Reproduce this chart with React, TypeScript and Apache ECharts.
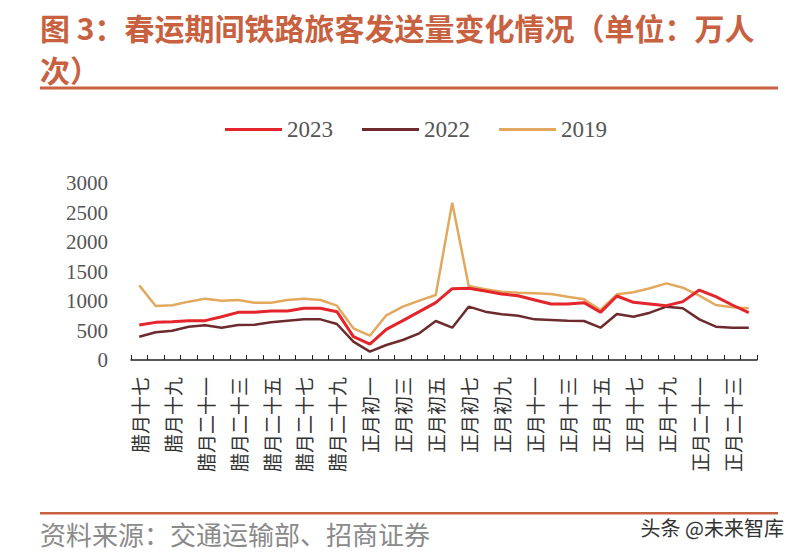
import React, { useEffect, useRef } from "react";
import * as echarts from "echarts";

const categories = [
  "腊月十七", "腊月十八", "腊月十九", "腊月二十", "腊月二十一", "腊月二十二", "腊月二十三", "腊月二十四",
  "腊月二十五", "腊月二十六", "腊月二十七", "腊月二十八", "腊月二十九", "腊月三十",
  "正月初一", "正月初二", "正月初三", "正月初四", "正月初五", "正月初六", "正月初七", "正月初八",
  "正月初九", "正月初十", "正月十一", "正月十二", "正月十三", "正月十四", "正月十五", "正月十六",
  "正月十七", "正月十八", "正月十九", "正月二十", "正月二十一", "正月二十二", "正月二十三", "正月二十四",
];

const s2023 = [
  593, 638, 650, 667, 667, 734, 808, 808, 831, 831, 876, 876, 819, 395,
  271, 520, 667, 819, 972, 1209, 1215, 1169, 1119, 1090, 1017, 949, 949, 972,
  808, 1085, 977, 949, 921, 989, 1186, 1073, 932, 802,
];
const s2022 = [
  395, 469, 497, 565, 588, 548, 593, 599, 638, 667, 689, 689, 610, 311,
  141, 254, 339, 452, 661, 548, 904, 819, 774, 751, 689, 678, 667, 661,
  548, 780, 734, 802, 904, 876, 689, 565, 548, 548,
];
const s2019 = [
  1265, 915, 927, 989, 1040, 1006, 1017, 972, 972, 1017, 1040, 1017, 921, 537,
  412, 757, 904, 1006, 1102, 2667, 1254, 1198, 1158, 1141, 1130, 1119, 1073, 1028,
  847, 1113, 1147, 1215, 1299, 1226, 1090, 932, 893, 876,
];

const yTicks = [0, 500, 1000, 1500, 2000, 2500, 3000];

const titleLine1 = "图 3：春运期间铁路旅客发送量变化情况（单位：万人";
const titleLine2 = "次）";
const sourceText = "资料来源：交通运输部、招商证券";
const watermark = "头条 @未来智库";

export default function App() {
  const ref = useRef<HTMLDivElement>(null);
  useEffect(() => {
    if (!ref.current) return;
    const chart = echarts.init(ref.current, null, { renderer: "svg" });
    const accent = "#C8613F";
    chart.setOption({
      animation: false,
      backgroundColor: "#ffffff",
      grid: { left: 131, right: 43, top: 183, bottom: 192, containLabel: false },
      legend: {
        left: 220,
        top: 113,
        itemWidth: 57,
        itemHeight: 3,
        itemGap: 29,
        icon: "rect",
        textStyle: { fontFamily: "Liberation Serif", fontSize: 23, color: "#555" },
        data: ["2023", "2022", "2019"],
      },
      xAxis: {
        type: "category",
        data: categories,
        boundaryGap: true,
        axisLine: { lineStyle: { color: "#222", width: 1.5 } },
        axisTick: { show: true, inside: true, length: 5, interval: 0, lineStyle: { color: "#222" } },
        axisLabel: {
          interval: 1,
          rotate: 90,
          margin: 17,
          fontSize: 19,
          fontFamily: "Noto Sans CJK SC",
          color: "#333",
        },
      },
      yAxis: {
        type: "value",
        min: 0,
        max: 3000,
        interval: 500,
        axisLine: { show: false },
        axisTick: { show: false },
        splitLine: { show: false },
        axisLabel: {
          margin: 23,
          fontSize: 21,
          fontFamily: "Liberation Serif",
          color: "#555",
          formatter: (v: number) => (yTicks.includes(v) ? String(v) : ""),
        },
      },
      series: [
        {
          name: "2023",
          type: "line",
          data: s2023,
          showSymbol: false,
          z: 4,
          itemStyle: { color: "#E4252B" },
          lineStyle: { color: "#E4252B", width: 3 },
        },
        {
          name: "2022",
          type: "line",
          data: s2022,
          showSymbol: false,
          z: 3,
          itemStyle: { color: "#6E2B2E" },
          lineStyle: { color: "#6E2B2E", width: 2.5 },
        },
        {
          name: "2019",
          type: "line",
          data: s2019,
          showSymbol: false,
          z: 2,
          itemStyle: { color: "#E2A95E" },
          lineStyle: { color: "#E2A95E", width: 2.5 },
        },
      ],
      graphic: [
        {
          type: "text",
          x: 40,
          y: 27,
          style: {
            text: titleLine1,
            fontSize: 30,
            fontWeight: "bold",
            fontFamily: "Noto Sans CJK SC",
            fill: accent,
            verticalAlign: "middle",
          },
        },
        {
          type: "text",
          x: 40,
          y: 69,
          style: {
            text: titleLine2,
            fontSize: 30,
            fontWeight: "bold",
            fontFamily: "Noto Sans CJK SC",
            fill: accent,
            verticalAlign: "middle",
          },
        },
        { type: "rect", shape: { x: 40, y: 86.5, width: 738, height: 3 }, style: { fill: accent } },
        { type: "rect", shape: { x: 40, y: 512, width: 738, height: 2.5 }, style: { fill: accent } },
        {
          type: "text",
          x: 40,
          y: 533,
          style: {
            text: sourceText,
            fontSize: 26,
            fontFamily: "Noto Sans CJK SC",
            fill: "#8a8a8a",
            verticalAlign: "middle",
          },
        },
        {
          type: "text",
          x: 784,
          y: 527,
          style: {
            text: watermark,
            fontSize: 20,
            fontFamily: "Noto Sans CJK SC",
            fill: "#333",
            align: "right",
            verticalAlign: "middle",
          },
        },
      ],
    });
    return () => chart.dispose();
  }, []);
  return (
    <div
      ref={ref}
      style={{ position: "fixed", left: 0, top: 0, width: 800, height: 552, background: "#fff" }}
    />
  );
}
